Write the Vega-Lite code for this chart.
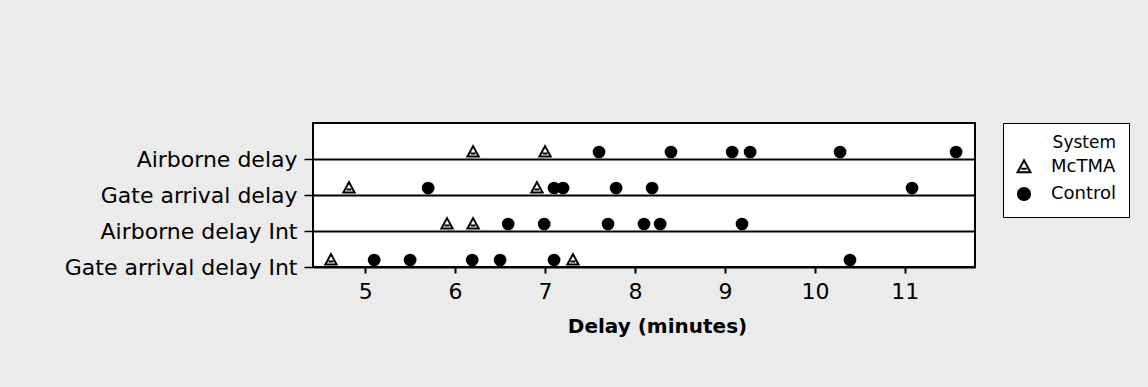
{
  "$schema": "https://vega.github.io/schema/vega-lite/v6.json",
  "autosize": "none",
  "padding": {"left": 313, "top": 123, "right": 173, "bottom": 120},
  "width": 662,
  "height": 144,
  "background": "#ebebeb",
  "config": {
    "font": "DejaVu Sans",
    "view": {"fill": "white", "stroke": "black", "strokeWidth": 2}
  },
  "data": {
    "values": [
      {"measure": "Airborne delay", "System": "McTMA", "delay": 6.2},
      {"measure": "Airborne delay", "System": "McTMA", "delay": 7.0},
      {"measure": "Airborne delay", "System": "Control", "delay": 7.6},
      {"measure": "Airborne delay", "System": "Control", "delay": 8.4},
      {"measure": "Airborne delay", "System": "Control", "delay": 9.08},
      {"measure": "Airborne delay", "System": "Control", "delay": 9.28},
      {"measure": "Airborne delay", "System": "Control", "delay": 10.28},
      {"measure": "Airborne delay", "System": "Control", "delay": 11.57},
      {"measure": "Gate arrival delay", "System": "McTMA", "delay": 4.82},
      {"measure": "Gate arrival delay", "System": "McTMA", "delay": 6.91},
      {"measure": "Gate arrival delay", "System": "Control", "delay": 5.7},
      {"measure": "Gate arrival delay", "System": "Control", "delay": 7.1},
      {"measure": "Gate arrival delay", "System": "Control", "delay": 7.2},
      {"measure": "Gate arrival delay", "System": "Control", "delay": 7.79},
      {"measure": "Gate arrival delay", "System": "Control", "delay": 8.19},
      {"measure": "Gate arrival delay", "System": "Control", "delay": 11.08},
      {"measure": "Airborne delay Int", "System": "McTMA", "delay": 5.91},
      {"measure": "Airborne delay Int", "System": "McTMA", "delay": 6.2},
      {"measure": "Airborne delay Int", "System": "Control", "delay": 6.59},
      {"measure": "Airborne delay Int", "System": "Control", "delay": 6.99},
      {"measure": "Airborne delay Int", "System": "Control", "delay": 7.7},
      {"measure": "Airborne delay Int", "System": "Control", "delay": 8.1},
      {"measure": "Airborne delay Int", "System": "Control", "delay": 8.28},
      {"measure": "Airborne delay Int", "System": "Control", "delay": 9.19},
      {"measure": "Gate arrival delay Int", "System": "McTMA", "delay": 4.62},
      {"measure": "Gate arrival delay Int", "System": "McTMA", "delay": 7.31},
      {"measure": "Gate arrival delay Int", "System": "Control", "delay": 5.1},
      {"measure": "Gate arrival delay Int", "System": "Control", "delay": 5.5},
      {"measure": "Gate arrival delay Int", "System": "Control", "delay": 6.19},
      {"measure": "Gate arrival delay Int", "System": "Control", "delay": 6.5},
      {"measure": "Gate arrival delay Int", "System": "Control", "delay": 7.1},
      {"measure": "Gate arrival delay Int", "System": "Control", "delay": 10.39}
    ]
  },
  "mark": {"type": "point", "yOffset": -7, "size": 115, "stroke": "black", "strokeWidth": 2, "opacity": 1},
  "encoding": {
    "x": {
      "field": "delay",
      "type": "quantitative",
      "scale": {"domain": [4.42, 11.78], "nice": false, "zero": false},
      "axis": {
        "values": [5, 6, 7, 8, 9, 10, 11],
        "title": "Delay (minutes)",
        "titleFont": "DejaVu Sans",
        "titleFontSize": 20,
        "titleFontWeight": "bold",
        "titleColor": "black",
        "titlePadding": 14,
        "titleX": 344,
        "labelFontSize": 22,
        "labelColor": "black",
        "labelPadding": 8,
        "tickSize": 6,
        "tickColor": "black",
        "tickWidth": 2,
        "domain": false,
        "grid": false
      }
    },
    "y": {
      "field": "measure",
      "type": "nominal",
      "sort": ["Airborne delay", "Gate arrival delay", "Airborne delay Int", "Gate arrival delay Int"],
      "scale": {"type": "point", "range": [36, 144], "padding": 0},
      "axis": {
        "title": null,
        "labelFontSize": 22,
        "labelLimit": 0,
        "labelColor": "black",
        "labelPadding": 7,
        "tickSize": 9,
        "tickColor": "black",
        "tickWidth": 1.5,
        "domain": false,
        "grid": true,
        "gridColor": "black",
        "gridWidth": 2,
        "gridOpacity": 1
      }
    },
    "shape": {
      "field": "System",
      "type": "nominal",
      "scale": {
        "domain": ["McTMA", "Control"],
        "range": ["M0,-1.1L1.05,0.85L-1.05,0.85ZM-0.45,0.3L0.45,0.3", "circle"]
      }
    },
    "fill": {
      "field": "System",
      "type": "nominal",
      "scale": {"domain": ["McTMA", "Control"], "range": ["white", "black"]},
      "legend": {
        "orient": "right",
        "offset": 28,
        "padding": 12,
        "strokeColor": "black",
        "fillColor": "white",
        "title": "System",
        "titleFontWeight": "normal",
        "titleFontSize": 17,
        "titleColor": "black",
        "titleAnchor": "end",
        "titlePadding": 6,
        "labelFontSize": 18,
        "labelColor": "black",
        "labelOffset": 18,
        "rowPadding": 6,
        "symbolSize": 150,
        "symbolStrokeColor": "black",
        "symbolStrokeWidth": 2,
        "symbolOpacity": 1
      }
    }
  }
}
